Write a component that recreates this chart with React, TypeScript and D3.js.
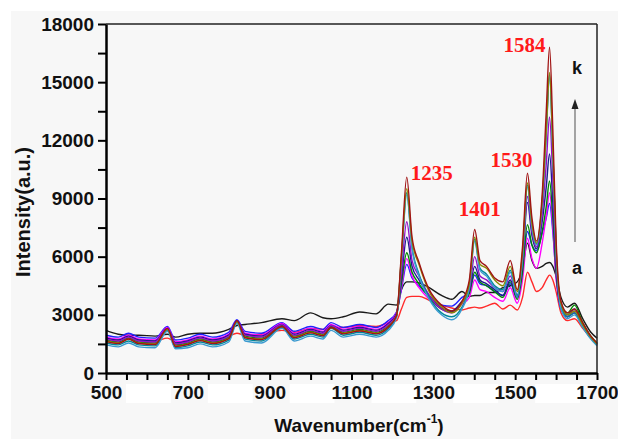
import { useEffect, useRef } from 'react';
import * as d3 from 'd3';

// wavenumber grid (cm-1) shared by all spectra
const wavenumbers = [
  500, 530, 555, 580, 620, 650, 670, 700, 730, 760,
  800, 820, 840, 880, 930, 960, 1000, 1030, 1050, 1080,
  1120, 1160, 1190, 1210, 1222, 1235, 1248, 1265, 1290, 1320,
  1345, 1370, 1388, 1401, 1414, 1430, 1450, 1470, 1488, 1505,
  1518, 1530, 1541, 1552, 1566, 1576, 1584, 1592, 1600, 1612,
  1628, 1645, 1665, 1685, 1700,
];

// spectra a .. k
const specA = [
  1800, 1700, 1800, 1700, 1650, 1800, 1600, 1650, 1750, 1700,
  1900, 2050, 1950, 2000, 2200, 2100, 2300, 2250, 2350, 2350,
  2450, 2400, 2600, 2700, 3300, 3900, 3950, 3950, 3750, 3500,
  3350, 3250, 3350, 3400, 3350, 3450, 3600, 3300, 3500, 3250,
  3900, 5200, 4700, 4200, 4400, 4800, 5050, 4800, 4200, 3100,
  2700, 2800, 2300, 1800, 1450,
];
const specB = [
  2200, 2000, 1950, 1950, 1900, 2000, 1850, 2000, 2050, 2050,
  2250, 2450, 2500, 2600, 2800, 2700, 3100, 2850, 2800, 2900,
  3150, 3050, 3550, 3500, 4300, 4700, 4700, 4650, 4400, 4000,
  3800, 4200, 3950, 4000, 4000, 4150, 4150, 4400, 4500, 4700,
  5400, 6700, 5800, 5400, 5500, 5650, 5700, 5500, 5000, 3900,
  3400, 3600, 2800, 2100, 1800,
];
const specC = [
  1950, 1850, 2050, 1850, 1800, 2400, 1700, 1800, 2000, 1850,
  2100, 2750, 2150, 2050, 2600, 2150, 2400, 2250, 2600, 2350,
  2500, 2350, 2700, 3150, 4300, 5600, 4900, 4500, 3950, 3500,
  3450, 3900, 4200, 5050, 4600, 4500, 4200, 4000, 4600, 3900,
  5200, 7300, 6600, 6300, 7200, 8000, 8750, 7300, 5000, 3400,
  3000, 3300, 2500, 1850, 1500,
];
const specD = [
  1850, 1750, 1950, 1750, 1700, 2350, 1600, 1700, 1900, 1750,
  2000, 2700, 2050, 1950, 2550, 2050, 2300, 2150, 2500, 2250,
  2400, 2250, 2600, 3100, 4400, 5900, 5000, 4400, 3800, 3300,
  3150, 3550, 3900, 4800, 4300, 4200, 3900, 3700, 4400, 3600,
  4800, 6950, 5900, 5400, 6700, 8100, 9300, 7500, 4900, 3300,
  2900, 3200, 2500, 1850, 1500,
];
const specE = [
  1700, 1600, 1800, 1600, 1550, 2250, 1450, 1550, 1750, 1600,
  1850, 2650, 1900, 1800, 2450, 1900, 2150, 2000, 2400, 2100,
  2250, 2100, 2450, 3000, 4600, 6200, 5200, 4600, 3900, 3300,
  3150, 3650, 4100, 5200, 4700, 4500, 4200, 3900, 4700, 3800,
  5200, 7650, 6600, 6200, 7300, 8600, 9900, 8000, 5200, 3400,
  3100, 3500, 2600, 1900, 1550,
];
const specF = [
  1800, 1700, 1900, 1700, 1650, 2300, 1550, 1650, 1850, 1700,
  1950, 2700, 2000, 1900, 2500, 2000, 2250, 2100, 2450, 2200,
  2350, 2200, 2550, 3050, 4900, 7000, 5500, 4800, 4000, 3350,
  3200, 3700, 4200, 5500, 4800, 4600, 4300, 4000, 4800, 3900,
  5600, 8800, 7100, 6400, 7800, 9600, 11300, 8800, 5400, 3300,
  2900, 3100, 2400, 1800, 1500,
];
const specG = [
  1750, 1650, 1850, 1650, 1600, 2300, 1500, 1600, 1800, 1650,
  1900, 2650, 1950, 1850, 2500, 1950, 2200, 2050, 2450, 2150,
  2300, 2150, 2500, 3000, 5200, 7800, 5800, 5000, 4000, 3300,
  3100, 3600, 4300, 6000, 5000, 4800, 4400, 4200, 5000, 4000,
  5800, 9100, 7300, 6500, 8200, 10800, 13200, 10000, 5800, 3400,
  2900, 3100, 2400, 1800, 1500,
];
const specH = [
  1550, 1450, 1650, 1450, 1400, 2200, 1300, 1400, 1600, 1450,
  1700, 2600, 1750, 1650, 2350, 1750, 2000, 1850, 2300, 1950,
  2100, 1950, 2300, 2900, 5900, 9300, 6500, 5100, 3900, 3100,
  2900, 3400, 4500, 6900, 5400, 5100, 4500, 4300, 5300, 4000,
  6000, 9700, 7600, 6650, 8800, 12400, 15400, 11500, 6400, 3400,
  2900, 3100, 2400, 1800, 1450,
];
const specI = [
  1450, 1350, 1550, 1350, 1300, 2150, 1250, 1300, 1500, 1350,
  1600, 2550, 1650, 1550, 2300, 1650, 1900, 1750, 2200, 1850,
  2000, 1850, 2200, 2850, 5800, 9200, 6400, 5000, 3800, 3000,
  2750, 3300, 4400, 6800, 5300, 5000, 4400, 4200, 5200, 3900,
  5900, 9600, 7500, 6600, 8700, 12300, 15300, 11400, 6300, 3300,
  2800, 3000, 2350, 1750, 1400,
];
const specJ = [
  1650, 1550, 1750, 1550, 1500, 2250, 1400, 1500, 1700, 1550,
  1800, 2650, 1850, 1750, 2400, 1850, 2100, 1950, 2350, 2050,
  2200, 2050, 2400, 2950, 6000, 9500, 6800, 5600, 4200, 3400,
  3100, 3600, 4600, 7000, 5600, 5400, 4800, 4500, 5500, 4200,
  6200, 9800, 7700, 6700, 8900, 12500, 15500, 11600, 6500, 3600,
  3000, 3200, 2500, 1850, 1500,
];
const specK = [
  1620, 1520, 1750, 1520, 1470, 2300, 1370, 1470, 1670, 1520,
  1770, 2700, 1820, 1720, 2400, 1820, 2070, 1920, 2350, 2020,
  2170, 2020, 2370, 2950, 6200, 10100, 7000, 5700, 4300, 3500,
  3200, 3700, 4800, 7400, 5800, 5500, 4900, 4700, 5800, 4300,
  6500, 10300, 8000, 6800, 9200, 13500, 16800, 12600, 6900, 3700,
  3100, 3300, 2600, 1900, 1550,
];

const spectra = [specA, specB, specC, specD, specE, specF, specG, specH, specI, specJ, specK];
const colors = [
  '#ff2a2a', '#1a1a1a', '#2020ff', '#ff00ff', '#008a00', '#1c1c8a',
  '#9410c8', '#00889a', '#3a9ad0', '#8a8a00', '#a01414',
];

const xLabels = [500, 700, 900, 1100, 1300, 1500, 1700];
const yLabels = [0, 3000, 6000, 9000, 12000, 15000, 18000];
const peaks = [1235, 1401, 1530, 1584];

function App() {
  const ref = useRef(null);

  useEffect(() => {
    const svg = d3.select(ref.current);
    svg.selectAll('*').remove();

    const W = 618;
    const H = 439;
    const left = 106, right = 597, top = 24, bottom = 373;
    const sans = "'Liberation Sans', Arial, sans-serif";
    const serif = "'Liberation Serif', 'Times New Roman', serif";

    const x = d3.scaleLinear().domain([500, 1700]).range([left, right]);
    const y = d3.scaleLinear().domain([0, 18000]).range([bottom, top]);

    svg.append('rect').attr('width', W).attr('height', H).attr('fill', '#fff');
    svg.append('rect').attr('x', 11).attr('y', 11).attr('width', W - 11).attr('height', H - 11).attr('fill', '#f7f7f7');

    // white patches between the x labels
    for (let i = 0; i < xLabels.length - 1; i++) {
      svg.append('rect')
        .attr('x', x(xLabels[i]) + 20)
        .attr('y', 384)
        .attr('width', x(xLabels[i + 1]) - x(xLabels[i]) - 37)
        .attr('height', 19)
        .attr('fill', '#fff');
    }

    const line = d3.line()
      .x((d) => x(d[0]))
      .y((d) => y(d[1]))
      .curve(d3.curveMonotoneX);

    const g = svg.append('g');
    spectra.forEach((s, i) => {
      g.append('path')
        .datum(wavenumbers.map((w, j) => [w, s[j]]))
        .attr('d', line)
        .attr('fill', 'none')
        .attr('stroke', colors[i])
        .attr('stroke-width', 1.4)
        .attr('stroke-linejoin', 'round');
    });

    // frame
    svg.append('line').attr('x1', left).attr('x2', right).attr('y1', top).attr('y2', top)
      .attr('stroke', '#222').attr('stroke-width', 1.5);
    svg.append('line').attr('x1', right).attr('x2', right).attr('y1', top).attr('y2', bottom)
      .attr('stroke', '#222').attr('stroke-width', 1.5);

    const xAxis = svg.append('g')
      .attr('transform', `translate(0,${bottom})`)
      .call(d3.axisBottom(x)
        .tickValues(d3.range(500, 1701, 50))
        .tickSize(7)
        .tickSizeOuter(0)
        .tickPadding(6)
        .tickFormat((d) => (xLabels.includes(d) ? String(d) : '')));

    const yAxis = svg.append('g')
      .attr('transform', `translate(${left},0)`)
      .call(d3.axisLeft(y)
        .tickValues(d3.range(0, 18001, 1500))
        .tickSize(8)
        .tickSizeOuter(0)
        .tickPadding(4)
        .tickFormat((d) => (yLabels.includes(d) ? String(d) : '')));

    [xAxis, yAxis].forEach((ax) => {
      ax.select('.domain').attr('stroke', '#000').attr('stroke-width', 2.5);
      ax.selectAll('.tick line').attr('stroke', '#000').attr('stroke-width', 2);
      ax.selectAll('.tick text')
        .attr('fill', '#111')
        .style('font-family', sans)
        .style('font-weight', 'bold')
        .style('font-size', '19px');
    });

    // axis titles
    svg.append('text')
      .attr('transform', `translate(30,212) rotate(-90)`)
      .attr('text-anchor', 'middle')
      .style('font-family', sans)
      .style('font-weight', 'bold')
      .style('font-size', '20px')
      .attr('fill', '#111')
      .text('Intensity(a.u.)');

    const xt = svg.append('text')
      .attr('x', 359)
      .attr('y', 432)
      .attr('text-anchor', 'middle')
      .style('font-family', sans)
      .style('font-weight', 'bold')
      .style('font-size', '19px')
      .attr('fill', '#111');
    xt.append('tspan').text('Wavenumber(cm');
    xt.append('tspan').attr('dy', -9).style('font-size', '12px').text('-1');
    xt.append('tspan').attr('dy', 9).text(')');

    // peak labels
    const peakPos = [
      { dx: 4, y: 180, anchor: 'start' },
      { dx: 5, y: 216, anchor: 'middle' },
      { dx: 5, y: 167, anchor: 'end' },
      { dx: -4, y: 52, anchor: 'end' },
    ];
    peaks.forEach((p, i) => {
      svg.append('text')
        .attr('x', x(p) + peakPos[i].dx)
        .attr('y', peakPos[i].y)
        .attr('text-anchor', peakPos[i].anchor)
        .style('font-family', serif)
        .style('font-weight', 'bold')
        .style('font-size', '21px')
        .attr('fill', '#ff1a1a')
        .text(String(p));
    });

    // a -> k arrow
    svg.append('line')
      .attr('x1', 575).attr('x2', 575).attr('y1', 242).attr('y2', 106)
      .attr('stroke', '#777').attr('stroke-width', 1.3);
    svg.append('path')
      .attr('d', 'M575,99 L571.5,109 L578.5,109 Z')
      .attr('fill', '#222');
    svg.append('text')
      .attr('x', 577).attr('y', 74).attr('text-anchor', 'middle')
      .style('font-family', sans).style('font-weight', 'bold').style('font-size', '18px')
      .attr('fill', '#111').text('k');
    svg.append('text')
      .attr('x', 577).attr('y', 274).attr('text-anchor', 'middle')
      .style('font-family', sans).style('font-weight', 'bold').style('font-size', '18px')
      .attr('fill', '#111').text('a');
  }, []);

  return (
    <svg
      ref={ref}
      width={618}
      height={439}
      style={{ position: 'absolute', left: 0, top: 0 }}
    ></svg>
  );
}

export default App;
